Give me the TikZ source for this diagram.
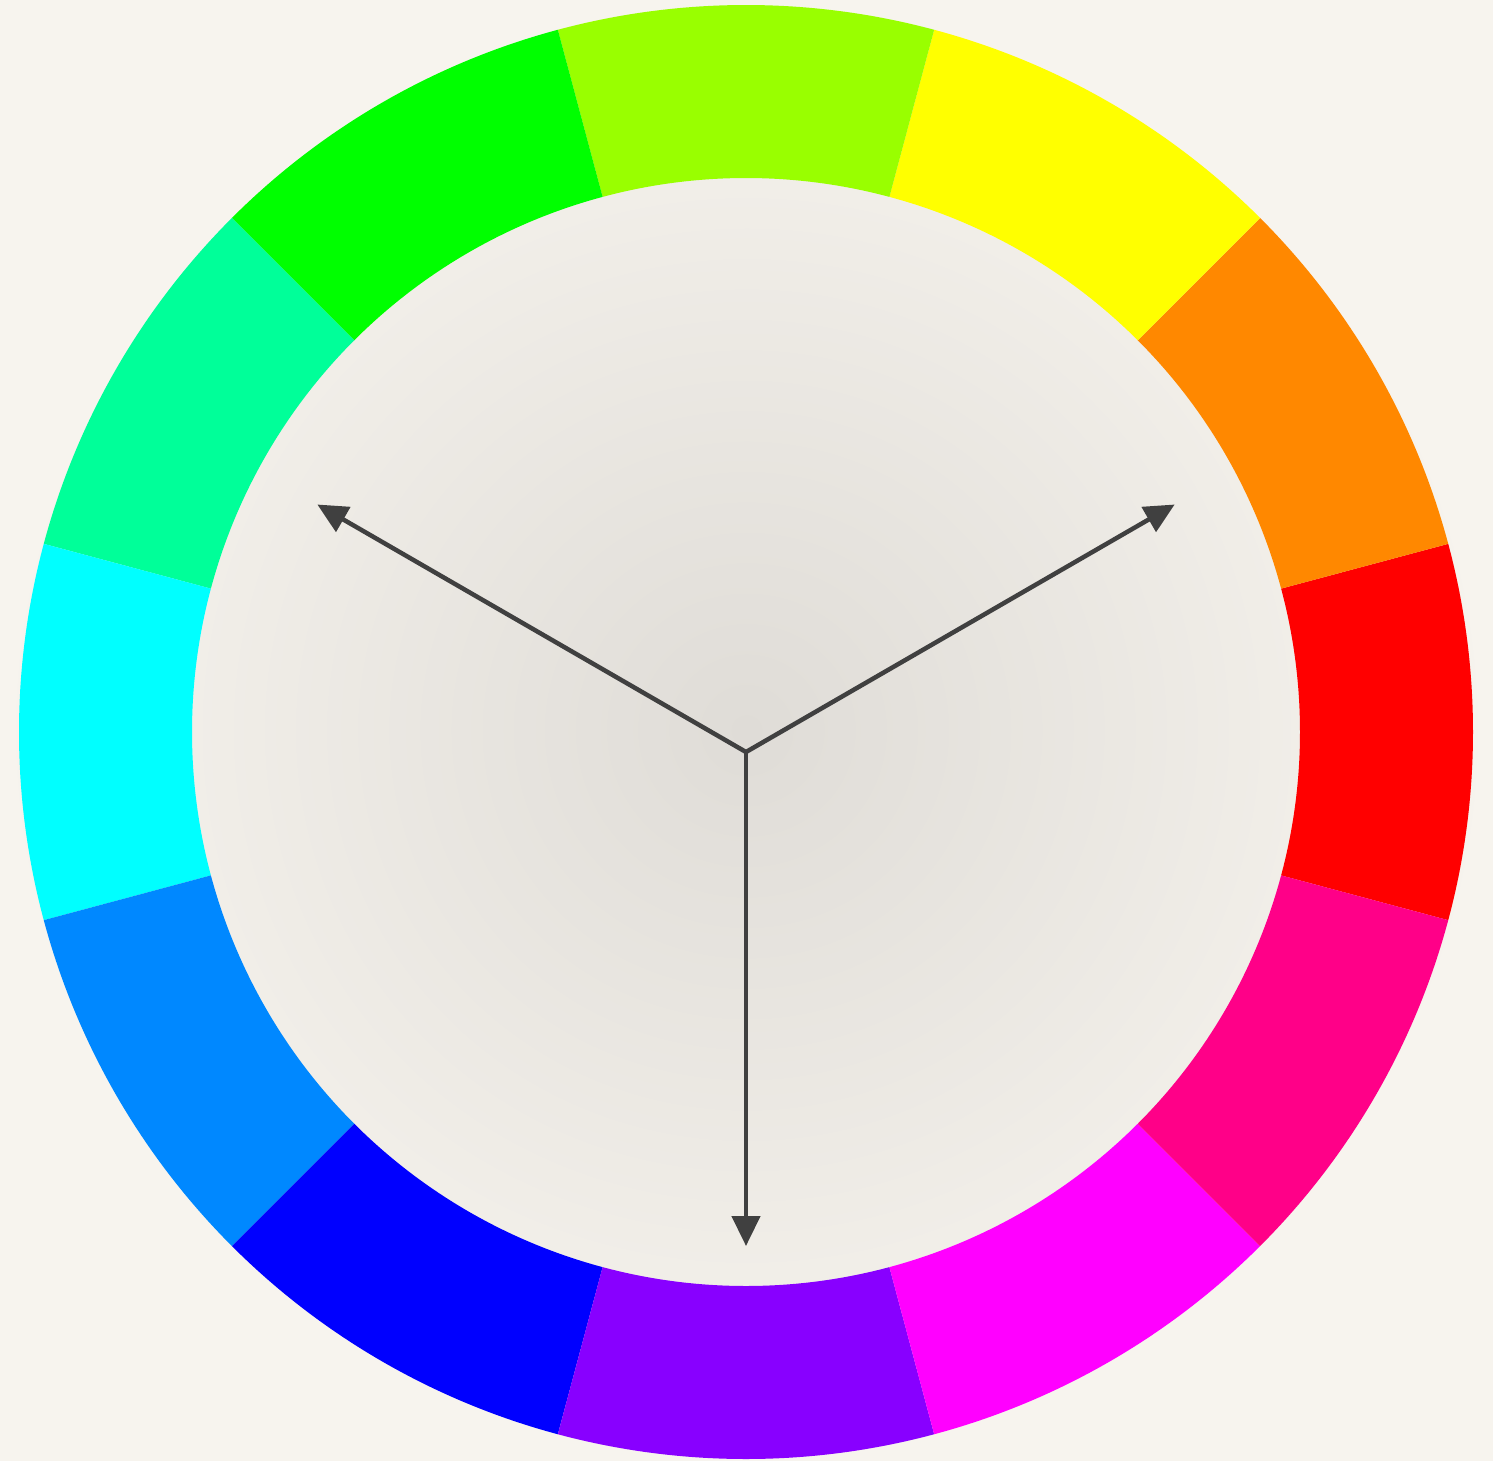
\documentclass[tikz,border=0pt]{standalone}
\usepackage{xcolor}
\usepackage{tikz}
\usetikzlibrary{arrows.meta, calc}

\definecolor{paperIn}{HTML}{DFDCD7}
\definecolor{paperOut}{HTML}{F7F4EE}
\definecolor{pointer}{HTML}{404040}
\definecolor{hueR}{HTML}{FF0000}
\definecolor{hueO}{HTML}{FF8800}
\definecolor{hueY}{HTML}{FFFF00}
\definecolor{hueC}{HTML}{99FF00}
\definecolor{hueG}{HTML}{00FF00}
\definecolor{hueS}{HTML}{00FF99}
\definecolor{hueCy}{HTML}{00FFFF}
\definecolor{hueA}{HTML}{0088FF}
\definecolor{hueB}{HTML}{0000FF}
\definecolor{hueV}{HTML}{8800FF}
\definecolor{hueM}{HTML}{FF00FF}
\definecolor{hueRo}{HTML}{FF0088}

\begin{document}
\begin{tikzpicture}[
  pointerarrow/.style={-{Triangle[length=0.3cm, width=0.28cm]}, line width=0.045cm, draw=pointer, fill=pointer}]
  % paper
  \shade[inner color=paperIn, outer color=paperOut] (-7.46,-7.28) rectangle (7.47,7.32);
  \useasboundingbox (-7.46,-7.28) rectangle (7.47,7.32);
  % colour ring
  \foreach \ang/\col in {0/hueR, 30/hueO, 60/hueY, 90/hueC, 120/hueG, 150/hueS,
                         180/hueCy, 210/hueA, 240/hueB, 270/hueV, 300/hueM, 330/hueRo}
    \fill[\col] (\ang-15:7.27) arc (\ang-15:\ang+15:7.27) -- (\ang+15:5.54) arc (\ang+15:\ang-15:5.54) -- cycle;
  % arrows
  \coordinate (hub) at (0,-0.20);
  \coordinate (tipL) at ($(hub)+(150:4.95)$);
  \coordinate (tipR) at ($(hub)+(30:4.95)$);
  \coordinate (tipB) at ($(hub)+(270:4.94)$);
  \draw[pointerarrow] (hub) -- (tipL);
  \draw[pointerarrow] (hub) -- (tipR);
  \draw[pointerarrow] (hub) -- (tipB);
\end{tikzpicture}
\end{document}
